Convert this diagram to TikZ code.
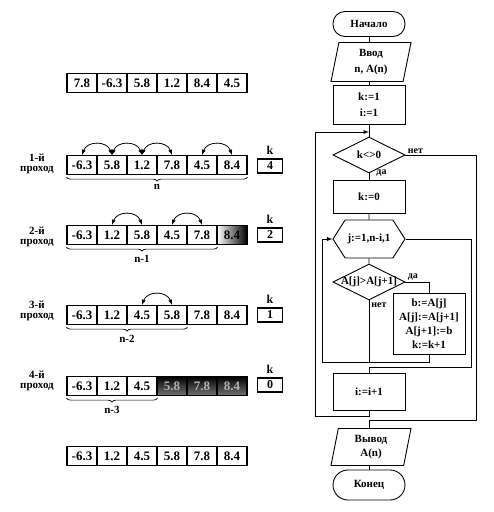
\documentclass[tikz,border=0pt]{standalone}
\usepackage{fontspec}
\setmainfont{Liberation Serif}
\usetikzlibrary{shapes.geometric,shapes.symbols,arrows.meta,positioning,decorations.pathreplacing}

\begin{document}
\begin{tikzpicture}[x=1pt,y=-1pt,line width=0.9pt,
    every node/.style={font=\fontsize{11}{14}\selectfont\bfseries},
    cell/.style={draw,line width=1.2pt,minimum width=30pt,minimum height=19pt,inner sep=0pt,font=\fontsize{13}{14}\selectfont\bfseries},
    fadecell/.style={cell,left color=white,right color=black},
    darkcell/.style={cell,top color=black,bottom color=black!55,text=black!30},
    kbox/.style={draw,line width=1.2pt,minimum width=25pt,minimum height=14pt,inner sep=0pt,font=\fontsize{12}{14}\selectfont\bfseries},
    klabel/.style={inner sep=0pt,font=\fontsize{12}{14}\selectfont\bfseries},
    pass/.style={align=center,font=\fontsize{11}{10.5}\selectfont\bfseries},
    swaparc/.style={latex-latex,line width=0.8pt,out=70,in=110,looseness=1.3},
    countbrace/.style={decorate,decoration={brace,mirror,amplitude=4pt},line width=0.7pt},
    term/.style={draw,rounded corners=12pt,minimum width=72pt,minimum height=25pt},
    proc/.style={draw,minimum width=72pt,align=center},
    io/.style={draw,trapezium,trapezium left angle=74,trapezium right angle=106,trapezium stretches body,minimum width=80pt,minimum height=39pt,align=center,inner sep=1pt},
    decision/.style={draw,diamond,aspect=2,minimum width=72pt,minimum height=36pt,inner sep=0pt},
    loophex/.style={draw,signal,signal to=west and east,signal pointer angle=115,minimum width=72pt,minimum height=38pt,inner sep=1pt},
    lbl/.style={font=\fontsize{10}{12}\selectfont\bfseries,inner sep=1pt}
  ]
  \useasboundingbox (0,0) rectangle (494,512);
  %Arrays
  \foreach \v [count=\i] in {7.8,-6.3,5.8,1.2,8.4,4.5} \node[cell] (a0\i) at ({52+30*\i},83) {\v};
  \foreach \v [count=\i] in {-6.3,5.8,1.2,7.8,4.5,8.4} \node[cell] (a1\i) at ({52+30*\i},165) {\v};
  \foreach \v/\s [count=\i] in {-6.3/cell,1.2/cell,5.8/cell,4.5/cell,7.8/cell,8.4/fadecell} \node[\s] (a2\i) at ({52+30*\i},235) {\v};
  \foreach \v [count=\i] in {-6.3,1.2,4.5,5.8,7.8,8.4} \node[cell] (a3\i) at ({52+30*\i},315) {\v};
  \foreach \v/\s [count=\i] in {-6.3/cell,1.2/cell,4.5/cell,5.8/darkcell,7.8/darkcell,8.4/darkcell} \node[\s] (a4\i) at ({52+30*\i},386) {\v};
  \foreach \v [count=\i] in {-6.3,1.2,4.5,5.8,7.8,8.4} \node[cell] (a5\i) at ({52+30*\i},456) {\v};
  %Swaps
  \foreach \a/\b in {1/2,2/3,3/4,5/6} \draw[swaparc] (a1\a.north) to (a1\b.north);
  \foreach \a/\b in {2/3,4/5} \draw[swaparc] (a2\a.north) to (a2\b.north);
  \draw[swaparc] (a33.north) to (a34.north);
  %Braces
  \draw[countbrace] ([yshift=-2pt]a11.south west) -- ([yshift=-2pt]a16.south east) node[midway,below=4pt] (n1) {n};
  \draw[countbrace] ([yshift=-2pt]a21.south west) -- ([yshift=-2pt]a25.south east) node[midway,below=4pt] (n2) {n-1};
  \draw[countbrace] ([yshift=-2pt]a31.south west) -- ([yshift=-2pt]a34.south east) node[midway,below=4pt] (n3) {n-2};
  \draw[countbrace] ([yshift=-2pt]a41.south west) -- ([yshift=-2pt]a43.south east) node[midway,below=4pt] (n4) {n-3};
  %Passes and k
  \foreach \r/\y in {1/164,2/237,3/311,4/381} \node[pass] (p\r) at (37,\y) {\r-й\\проход};
  \foreach \r/\y/\v in {1/166/4,2/235/2,3/315/1,4/385/0} {
      \node[kbox] (k\r) at (270,\y) {\v};
      \node[klabel,above=3pt of k\r] (kl\r) {k};
    }

  %Flowchart
  \node[term] (start) at (369,24) {Начало};
  \node[io] (inp) at (371,62) {Ввод\\[2pt]n, A(n)};
  \node[proc,minimum height=39pt] (init) at (369,105) {k:=1\\[2pt]i:=1};
  \node[decision] (test) at (369,155) {k<>0};
  \node[proc,minimum height=33pt] (zero) at (369,197) {k:=0};
  \node[loophex] (jloop) at (369,239) {j:=1,n-i,1};
  \node[decision] (cmp) at (369,282) {};
  \node (cmptxt) at (cmp) {A[j]>A[j+1]};
  \node[proc,minimum height=61pt,inner sep=1pt] (swap) at (429,324) {b:=A[j]\\A[j]:=A[j+1]\\A[j+1]:=b\\k:=k+1};
  \node[proc,minimum height=37pt] (inc) at (369,392) {i:=i+1};
  \node[io,minimum height=37pt] (outp) at (371,447) {Вывод\\A(n)};
  \node[term,minimum height=30pt,rounded corners=15pt] (stop) at (369,485) {Конец};
  %Labels
  \node[lbl,above right=0pt and 1pt of test.east] (tno) {нет};
  \node[lbl,right=6pt of test.south] (tyes) {да};
  \node[lbl,above right=0pt and 1pt of cmp.east] (cyes) {да};
  \node[lbl,below right=1pt and 1pt of cmp.south] (cno) {нет};
  %Lines
  \coordinate (j1) at (369,132);
  \coordinate (lp1) at (315,416);
  \coordinate (lp2) at (322,362);
  \coordinate (rt1) at (476,420);
  \coordinate (rt2) at (471,367);
  \draw (start.south) -- (start.south |- inp.north);
  \draw (start.south |- inp.south) -- (init.north);
  \draw (init) -- (test);
  \draw[-latex] (inc.south) |- (lp1) |- (j1);
  \draw (test) -- (zero);
  \draw (test.east) -| (rt1) -- (start.south |- rt1) -- (start.south |- outp.north);
  \draw (zero) -- (jloop);
  \draw (jloop) -- (cmp);
  \draw (jloop.east) -| (rt2) -| (inc.north);
  \draw (cmp.east) -| (swap.north);
  \draw (cmp.south) -- (cmp.south |- lp2);
  \draw[-latex] (swap.south) |- (lp2) |- (jloop.west);
  \draw (stop.north |- outp.south) -- (stop.north);
\end{tikzpicture}
\end{document}
